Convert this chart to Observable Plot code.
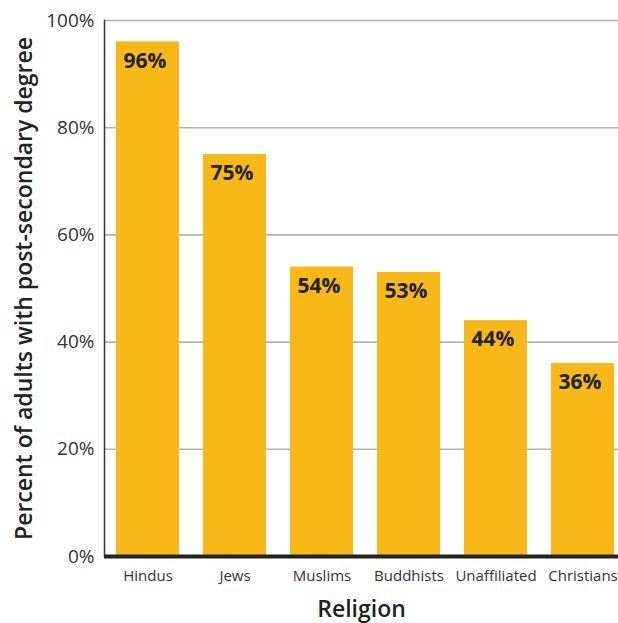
<!DOCTYPE html>
<html>
<head>
<meta charset="utf-8">
<script src="https://cdn.jsdelivr.net/npm/d3@7"></script>
<script src="https://cdn.jsdelivr.net/npm/@observablehq/plot@0.6"></script>
<style>
  body { margin: 0; background: #fff; }
  #chart svg { display: block; }
</style>
</head>
<body>
<div id="chart"></div>
<script>
// Share of adults holding a post-secondary degree, by religious group
const religions = ["Hindus", "Jews", "Muslims", "Buddhists", "Unaffiliated", "Christians"];
const shares = [96, 75, 54, 53, 44, 36];
const yTicks = [0, 20, 40, 60, 80, 100];

const data = religions.map((religion, i) => ({religion, share: shares[i]}));

const barColor = "#F8B817";

const chart = Plot.plot({
  width: 618,
  height: 623,
  marginLeft: 104,
  marginRight: 0,
  marginTop: 20,
  marginBottom: 67,
  style: {fontFamily: "'Open Sans', sans-serif", background: "#fff"},
  x: {domain: religions, range: [104, 626], paddingInner: 0.276, paddingOuter: 0.138},
  y: {domain: [0, 100]},
  marks: [
    // horizontal gridlines
    Plot.ruleY(yTicks.filter(d => d > 0), {stroke: "#b3b3b3", strokeWidth: 1.6}),
    // bars
    Plot.barY(data, {x: "religion", y: "share", fill: barColor}),
    // value labels inside the top of each bar
    Plot.text(data, {
      x: "religion", y: "share", text: d => `${d.share}%`,
      dx: -24.5, dy: 19, textAnchor: "start",
      fontWeight: 700, fontSize: 21, fill: "#222"
    }),
    // left axis line
    Plot.frame({anchor: "left", stroke: "#333", strokeWidth: 1.5}),
    // baseline
    Plot.ruleY([0], {stroke: "#222", strokeWidth: 4}),
    Plot.axisY(yTicks, {
      tickSize: 0, tickPadding: 10, tickFormat: d => `${d}%`,
      fontSize: 19, fill: "#333", label: null
    }),
    Plot.axisX({tickSize: 0, tickPadding: 14, fontSize: 15, fill: "#333", label: null}),
    // axis titles
    Plot.text(["Religion"], {
      frameAnchor: "bottom", dy: 60, lineAnchor: "bottom",
      fontSize: 23, fontWeight: 600, fill: "#222"
    }),
    Plot.text(["Percent of adults with post-secondary degree"], {
      frameAnchor: "left", dx: -79.5, rotate: -90, lineAnchor: "middle", textAnchor: "middle",
      fontSize: 23, fontWeight: 600, fill: "#222"
    })
  ]
});

document.getElementById("chart").appendChild(chart);
</script>
</body>
</html>
